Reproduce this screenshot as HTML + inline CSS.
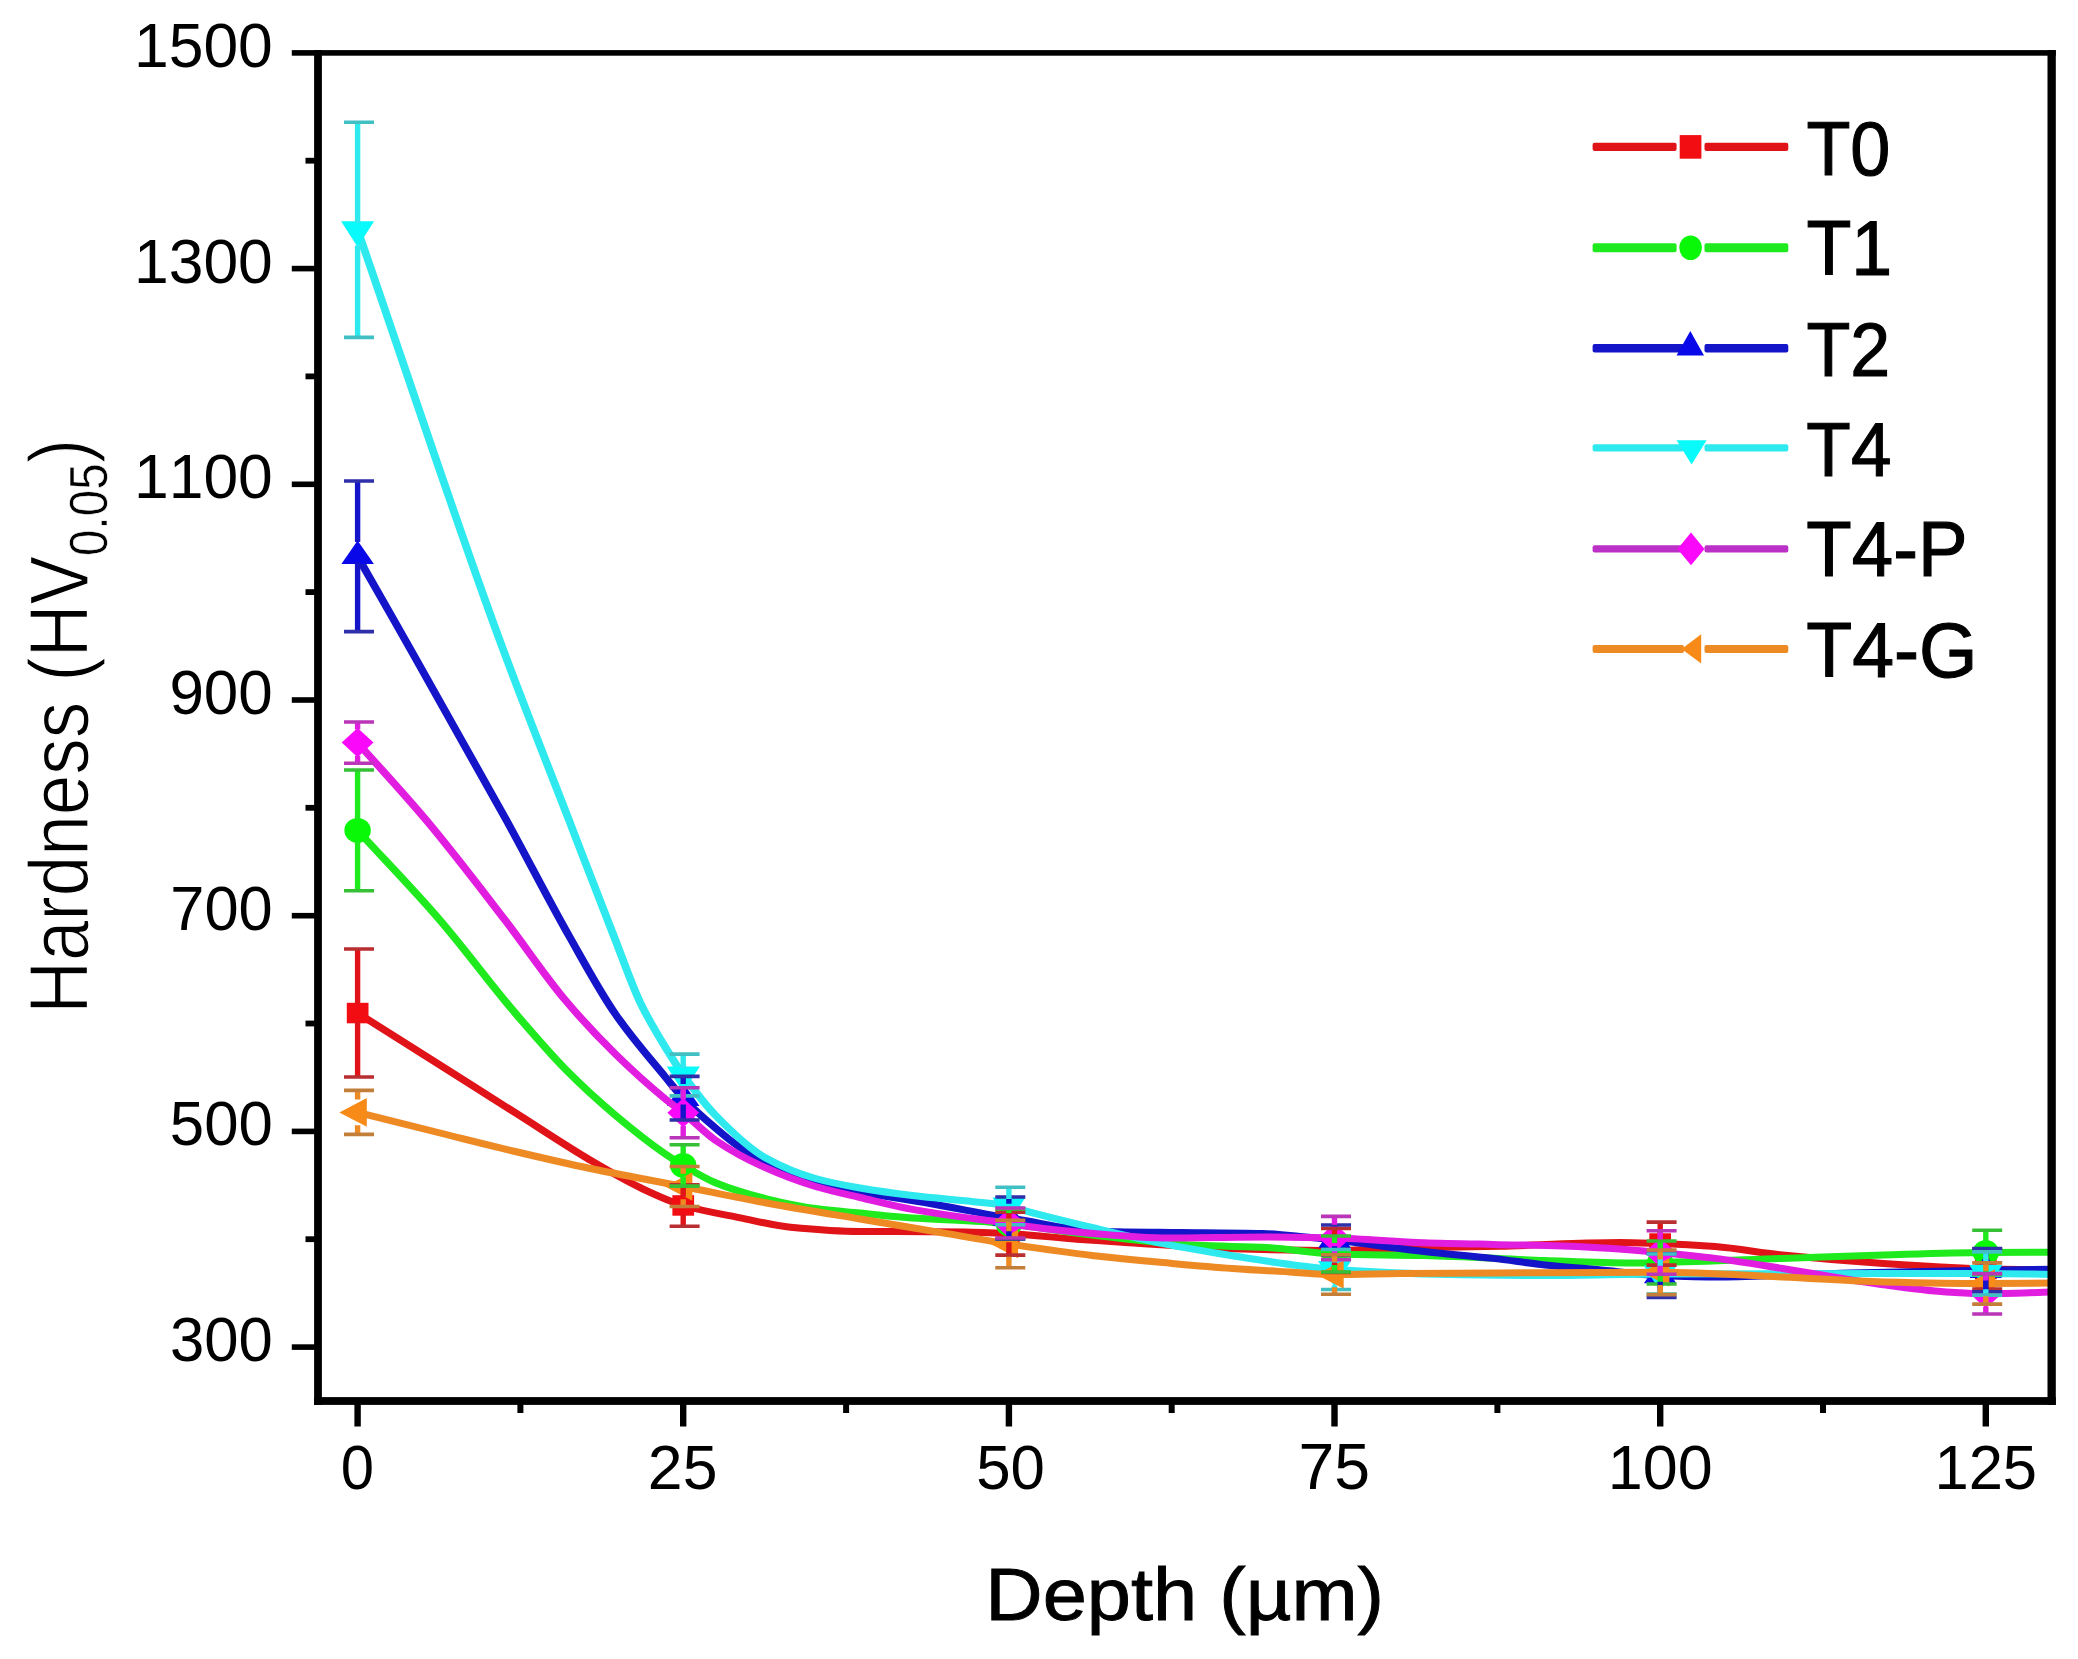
<!DOCTYPE html>
<html><head><meta charset="utf-8"><title>Hardness vs Depth</title>
<style>html,body{margin:0;padding:0;background:#fff}svg{display:block}</style></head>
<body>
<svg width="2078" height="1659" viewBox="0 0 2078 1659" font-family="'Liberation Sans', sans-serif" style="font-kerning:none">
<rect x="0" y="0" width="2078" height="1659" fill="#fff"/>
<clipPath id="cp"><rect x="318.0" y="53.0" width="1733.75" height="1348.0"/></clipPath>
<g clip-path="url(#cp)">
<path transform="scale(1.117,1)" d="M320.1,1013.0 C344.8,1030.4 369.4,1047.7 394.0,1065.1 C416.4,1080.9 438.8,1096.9 461.2,1112.7 C483.6,1128.5 506.1,1145.5 528.5,1160.2 C543.4,1170.0 558.3,1179.8 573.2,1187.7 C586.0,1194.4 598.9,1201.4 611.7,1205.5 C628.7,1211.0 645.8,1214.0 662.8,1217.8 C677.8,1221.2 692.7,1225.7 707.7,1227.3 C728.4,1229.5 749.2,1231.5 769.9,1231.5 C780.4,1231.5 790.8,1231.5 801.3,1231.5 C822.0,1231.5 842.7,1231.7 863.5,1232.0 C876.7,1232.2 890.0,1232.9 903.2,1233.6 C923.4,1234.7 943.6,1237.5 963.8,1239.2 C979.3,1240.5 994.9,1241.6 1010.4,1242.7 C1041.2,1244.9 1072.1,1247.9 1103.0,1248.8 C1133.6,1249.7 1164.2,1250.5 1194.8,1250.5 C1214.3,1250.5 1233.8,1248.5 1253.4,1248.0 C1283.2,1247.2 1313.0,1247.1 1342.9,1246.3 C1366.8,1245.7 1390.6,1243.9 1414.5,1243.3 C1426.4,1243.0 1438.4,1242.6 1450.3,1242.6 C1462.3,1242.6 1474.3,1243.2 1486.3,1243.6 C1502.7,1244.2 1519.0,1245.2 1535.4,1246.6 C1555.5,1248.3 1575.6,1252.7 1595.7,1255.0 C1625.9,1258.4 1656.0,1261.2 1686.2,1263.5 C1706.4,1265.0 1726.5,1266.4 1746.6,1267.5 C1757.0,1268.1 1767.4,1268.7 1777.8,1269.0 C1797.5,1269.5 1817.2,1269.7 1836.8,1270.0" fill="none" stroke="#e01318" stroke-width="7.0" stroke-linejoin="round"/>
<rect x="346.8" y="1002.8" width="21.7" height="20.5" fill="#f20d12"/>
<rect x="672.4" y="1195.2" width="21.7" height="20.5" fill="#f20d12"/>
<rect x="998.0" y="1223.3" width="21.7" height="20.5" fill="#f20d12"/>
<rect x="1323.7" y="1240.2" width="21.7" height="20.5" fill="#f20d12"/>
<rect x="1649.3" y="1233.3" width="21.7" height="20.5" fill="#f20d12"/>
<rect x="1975.0" y="1258.8" width="21.7" height="20.5" fill="#f20d12"/>
<path transform="scale(1.117,1)" d="M320.1,830.4 C344.8,860.4 369.4,888.4 394.0,920.3 C416.4,949.3 438.8,983.7 461.2,1013.0 C476.2,1032.5 491.1,1052.1 506.0,1069.0 C520.9,1085.9 535.9,1101.1 550.9,1115.2 C565.8,1129.2 580.7,1142.5 595.6,1154.0 C601.0,1158.1 606.3,1161.9 611.7,1165.4 C621.3,1171.7 630.9,1178.4 640.5,1182.7 C655.4,1189.5 670.3,1194.4 685.2,1198.5 C700.2,1202.6 715.1,1206.3 730.1,1208.5 C743.4,1210.5 756.6,1211.5 769.9,1213.0 C785.6,1214.7 801.3,1216.8 816.9,1218.0 C837.6,1219.5 858.3,1219.9 879.0,1221.5 C887.0,1222.1 895.1,1223.1 903.2,1224.0 C930.4,1227.2 957.6,1232.6 984.8,1236.0 C1014.0,1239.6 1043.3,1243.8 1072.5,1245.3 C1093.1,1246.4 1113.7,1246.4 1134.3,1247.5 C1154.4,1248.6 1174.6,1253.3 1194.8,1254.0 C1221.5,1254.9 1248.1,1254.8 1274.8,1255.5 C1311.0,1256.4 1347.1,1259.1 1383.2,1260.5 C1409.1,1261.5 1435.1,1263.0 1461.1,1263.0 C1469.5,1263.0 1477.9,1262.7 1486.3,1262.5 C1522.6,1261.6 1559.0,1259.8 1595.3,1258.4 C1625.6,1257.3 1655.9,1256.0 1686.2,1255.0 C1716.8,1254.0 1747.3,1252.7 1777.8,1252.5 C1797.5,1252.4 1817.2,1252.4 1836.8,1252.3" fill="none" stroke="#1eea1e" stroke-width="7.0" stroke-linejoin="round"/>
<ellipse cx="357.6" cy="830.4" rx="13.2" ry="12.5" fill="#08f808"/>
<ellipse cx="683.2" cy="1165.4" rx="13.2" ry="12.5" fill="#08f808"/>
<ellipse cx="1008.9" cy="1224.0" rx="13.2" ry="12.5" fill="#08f808"/>
<ellipse cx="1334.5" cy="1254.0" rx="13.2" ry="12.5" fill="#08f808"/>
<ellipse cx="1660.2" cy="1262.5" rx="13.2" ry="12.5" fill="#08f808"/>
<ellipse cx="1985.8" cy="1252.5" rx="13.2" ry="12.5" fill="#08f808"/>
<path transform="scale(1.117,1)" d="M320.1,556.3 C330.9,577.5 341.7,598.7 352.6,620.0 C386.2,686.3 419.8,752.1 453.4,820.2 C472.4,858.8 491.4,900.6 510.5,938.0 C523.9,964.4 537.4,992.3 550.9,1014.0 C565.8,1038.1 580.7,1056.8 595.6,1077.0 C601.0,1084.3 606.3,1091.9 611.7,1098.2 C621.3,1109.5 630.9,1118.9 640.5,1128.0 C647.6,1134.8 654.7,1141.6 661.9,1147.0 C677.4,1158.7 692.9,1170.8 708.4,1176.5 C728.9,1184.0 749.4,1187.6 769.9,1192.0 C790.8,1196.4 811.7,1199.5 832.6,1203.5 C856.1,1208.1 879.7,1213.6 903.2,1218.0 C907.9,1218.9 912.6,1219.6 917.3,1220.5 C927.8,1222.5 938.4,1225.4 949.0,1227.0 C962.1,1228.9 975.2,1231.1 988.4,1231.5 C1011.0,1232.1 1033.7,1232.2 1056.4,1232.5 C1081.2,1232.8 1105.9,1232.9 1130.7,1233.5 C1141.7,1233.8 1152.8,1235.4 1163.8,1236.5 C1174.1,1237.5 1184.5,1238.7 1194.8,1240.0 C1221.5,1243.3 1248.1,1248.2 1274.8,1251.5 C1295.4,1254.1 1316.0,1255.8 1336.6,1258.4 C1352.1,1260.3 1367.7,1263.2 1383.2,1265.0 C1398.7,1266.8 1414.2,1267.9 1429.7,1269.5 C1448.6,1271.4 1467.4,1274.7 1486.3,1275.5 C1504.1,1276.3 1522.0,1277.0 1539.8,1277.0 C1578.6,1277.0 1617.4,1274.1 1656.2,1273.0 C1696.8,1271.9 1737.3,1271.0 1777.8,1270.2 C1797.5,1269.8 1817.2,1269.5 1836.8,1269.2" fill="none" stroke="#1414c8" stroke-width="7.0" stroke-linejoin="round"/>
<path d="M341.4,564.1 L373.9,564.1 L357.6,540.6 Z" fill="#0808e8"/>
<path d="M667.0,1106.0 L699.5,1106.0 L683.2,1082.5 Z" fill="#0808e8"/>
<path d="M992.6,1225.8 L1025.2,1225.8 L1008.9,1202.3 Z" fill="#0808e8"/>
<path d="M1318.3,1247.8 L1350.8,1247.8 L1334.5,1224.3 Z" fill="#0808e8"/>
<path d="M1643.9,1283.3 L1676.4,1283.3 L1660.2,1259.8 Z" fill="#0808e8"/>
<path d="M1969.6,1278.0 L2002.1,1278.0 L1985.8,1254.5 Z" fill="#0808e8"/>
<path transform="scale(1.117,1)" d="M320.1,229.8 C362.0,364.8 403.8,507.8 445.6,634.9 C466.8,699.6 488.1,758.6 509.4,820.2 C523.2,860.2 537.0,900.8 550.9,940.0 C558.3,961.2 565.8,985.3 573.2,1002.6 C581.4,1021.7 589.6,1036.3 597.9,1051.3 C602.5,1059.7 607.1,1067.8 611.7,1075.0 C621.3,1089.9 630.9,1104.2 640.5,1115.2 C655.4,1132.3 670.3,1148.4 685.2,1157.7 C700.2,1167.0 715.1,1173.8 730.1,1178.5 C743.4,1182.7 756.6,1185.4 769.9,1188.0 C785.6,1191.0 801.3,1193.4 816.9,1195.5 C837.6,1198.3 858.3,1199.8 879.0,1202.5 C887.0,1203.5 895.1,1204.3 903.2,1206.0 C907.9,1207.0 912.6,1209.2 917.3,1210.6 C938.0,1217.0 958.7,1222.5 979.4,1228.0 C1000.0,1233.5 1020.6,1239.1 1041.2,1243.6 C1061.9,1248.2 1082.7,1252.0 1103.4,1255.7 C1124.1,1259.4 1144.8,1263.2 1165.4,1266.0 C1175.2,1267.3 1185.0,1268.8 1194.8,1269.5 C1229.2,1272.1 1263.7,1273.9 1298.1,1274.5 C1328.0,1275.0 1357.8,1275.5 1387.6,1275.5 C1420.5,1275.5 1453.4,1274.1 1486.3,1274.0 C1552.9,1273.7 1619.6,1273.7 1686.2,1273.6 C1716.8,1273.6 1747.3,1273.5 1777.8,1273.5 C1797.5,1273.5 1817.2,1274.1 1836.8,1274.4" fill="none" stroke="#2ee9ee" stroke-width="7.0" stroke-linejoin="round"/>
<path d="M341.1,221.2 L374.1,221.2 L357.6,247.0 Z" fill="#08fafa"/>
<path d="M666.8,1066.4 L699.8,1066.4 L683.2,1092.2 Z" fill="#08fafa"/>
<path d="M992.4,1197.4 L1025.4,1197.4 L1008.9,1223.2 Z" fill="#08fafa"/>
<path d="M1318.0,1260.9 L1351.0,1260.9 L1334.5,1286.7 Z" fill="#08fafa"/>
<path d="M1643.7,1265.4 L1676.7,1265.4 L1660.2,1291.2 Z" fill="#08fafa"/>
<path d="M1969.3,1264.9 L2002.3,1264.9 L1985.8,1290.7 Z" fill="#08fafa"/>
<path transform="scale(1.117,1)" d="M320.1,742.6 C340.6,768.5 361.1,792.9 381.6,820.2 C405.2,851.6 428.7,886.1 452.3,920.3 C470.2,946.3 488.1,976.3 506.0,1000.0 C520.9,1019.8 535.9,1037.6 550.9,1054.0 C565.8,1070.3 580.7,1085.3 595.6,1099.0 C601.0,1103.9 606.3,1108.0 611.7,1112.8 C621.3,1121.4 630.9,1132.9 640.5,1140.2 C655.4,1151.5 670.3,1160.3 685.2,1167.7 C700.2,1175.2 715.1,1181.5 730.1,1186.5 C743.4,1190.9 756.6,1194.0 769.9,1197.5 C785.6,1201.6 801.3,1206.2 816.9,1209.4 C837.6,1213.6 858.3,1216.8 879.0,1219.8 C887.0,1221.0 895.1,1221.7 903.2,1223.0 C907.9,1223.8 912.6,1225.2 917.3,1226.0 C943.1,1230.1 968.8,1232.8 994.6,1234.9 C1010.1,1236.2 1025.7,1238.0 1041.2,1238.0 C1072.2,1238.0 1103.3,1237.0 1134.3,1237.0 C1154.4,1237.0 1174.6,1237.5 1194.8,1238.0 C1221.5,1238.7 1248.1,1241.7 1274.8,1242.7 C1295.4,1243.5 1316.0,1243.9 1336.6,1244.4 C1357.4,1245.0 1378.2,1245.2 1398.9,1246.0 C1419.6,1246.8 1440.3,1248.3 1461.1,1250.0 C1469.5,1250.7 1477.9,1251.6 1486.3,1252.5 C1502.7,1254.3 1519.0,1256.1 1535.4,1258.4 C1555.5,1261.2 1575.6,1265.0 1595.7,1268.5 C1625.9,1273.7 1656.0,1280.3 1686.2,1284.7 C1706.4,1287.6 1726.5,1291.0 1746.6,1292.3 C1757.0,1293.0 1767.4,1293.8 1777.8,1293.8 C1797.5,1293.8 1817.2,1292.6 1836.8,1292.0" fill="none" stroke="#e11ee0" stroke-width="7.0" stroke-linejoin="round"/>
<path d="M341.7,742.6 L357.6,727.9 L373.5,742.6 L357.6,757.3 Z" fill="#fa08fa"/>
<path d="M667.4,1112.8 L683.2,1098.1 L699.1,1112.8 L683.2,1127.5 Z" fill="#fa08fa"/>
<path d="M993.0,1223.0 L1008.9,1208.3 L1024.8,1223.0 L1008.9,1237.7 Z" fill="#fa08fa"/>
<path d="M1318.6,1238.0 L1334.5,1223.3 L1350.5,1238.0 L1334.5,1252.7 Z" fill="#fa08fa"/>
<path d="M1644.3,1252.5 L1660.2,1237.8 L1676.1,1252.5 L1660.2,1267.2 Z" fill="#fa08fa"/>
<path d="M1969.9,1293.8 L1985.8,1279.1 L2001.8,1293.8 L1985.8,1308.5 Z" fill="#fa08fa"/>
<path transform="scale(1.117,1)" d="M320.1,1112.4 C344.8,1119.3 369.4,1126.2 394.0,1133.0 C416.4,1139.2 438.8,1145.6 461.2,1151.5 C483.6,1157.4 506.1,1163.3 528.5,1168.5 C556.2,1175.0 583.9,1180.4 611.7,1186.5 C636.2,1191.9 660.7,1197.8 685.2,1202.8 C713.5,1208.6 741.7,1213.7 769.9,1219.0 C795.9,1223.9 821.8,1228.7 847.8,1233.6 C866.3,1237.1 884.8,1240.9 903.2,1244.0 C928.6,1248.3 954.0,1252.4 979.4,1255.7 C1000.0,1258.3 1020.6,1260.5 1041.2,1262.6 C1061.9,1264.7 1082.7,1266.9 1103.4,1268.5 C1120.6,1269.9 1137.7,1270.9 1154.9,1272.0 C1168.2,1272.9 1181.5,1274.5 1194.8,1274.5 C1214.3,1274.5 1233.8,1273.7 1253.4,1273.5 C1283.2,1273.2 1313.0,1273.2 1342.9,1273.0 C1390.7,1272.7 1438.5,1272.3 1486.3,1272.3 C1522.8,1272.3 1559.2,1275.2 1595.7,1277.0 C1625.9,1278.5 1656.0,1281.2 1686.2,1282.0 C1716.8,1282.8 1747.3,1283.5 1777.8,1283.5 C1797.5,1283.5 1817.2,1283.2 1836.8,1283.0" fill="none" stroke="#ee8a24" stroke-width="7.0" stroke-linejoin="round"/>
<path d="M366.8,1098.1 L366.8,1126.8 L339.3,1112.4 Z" fill="#f88a18"/>
<path d="M692.4,1172.2 L692.4,1200.8 L664.9,1186.5 Z" fill="#f88a18"/>
<path d="M1018.1,1229.7 L1018.1,1258.3 L990.6,1244.0 Z" fill="#f88a18"/>
<path d="M1343.7,1260.2 L1343.7,1288.8 L1316.2,1274.5 Z" fill="#f88a18"/>
<path d="M1669.4,1258.0 L1669.4,1286.6 L1641.9,1272.3 Z" fill="#f88a18"/>
<path d="M1995.0,1269.2 L1995.0,1297.8 L1967.5,1283.5 Z" fill="#f88a18"/>
<path d="M357.6,949.0V1004.2M357.6,1021.8V1077.0M683.2,1184.8V1196.8M683.2,1214.2V1226.2M1008.9,1212.1V1224.8M1008.9,1242.3V1255.1M1334.5,1228.5V1241.8M1334.5,1259.2V1272.5M1660.2,1222.1V1234.8M1660.2,1252.3V1265.1M1985.8,1249.0V1260.2M1985.8,1277.8V1289.0" fill="none" stroke="#e01318" stroke-width="5.4"/>
<path d="M344.0,949.0h30M344.0,1077.0h30M669.6,1184.8h30M669.6,1226.2h30M995.3,1212.1h30M995.3,1255.1h30M1321.0,1228.5h30M1321.0,1272.5h30M1646.6,1222.1h30M1646.6,1265.1h30M1972.2,1249.0h30M1972.2,1289.0h30" fill="none" stroke="#b92e31" stroke-width="3.6"/>
<path d="M357.6,770.0V819.4M357.6,841.4V890.8M683.2,1144.7V1154.4M683.2,1176.4V1186.1M1008.9,1209.0V1213.0M1008.9,1235.0V1239.0M1334.5,1236.0V1243.0M1334.5,1265.0V1272.0M1660.2,1241.0V1251.5M1660.2,1273.5V1284.0M1985.8,1230.2V1241.5M1985.8,1263.5V1274.8" fill="none" stroke="#1eea1e" stroke-width="5.4"/>
<path d="M344.0,770.0h30M344.0,890.8h30M669.6,1144.7h30M669.6,1186.1h30M995.3,1209.0h30M995.3,1239.0h30M1321.0,1236.0h30M1321.0,1272.0h30M1646.6,1241.0h30M1646.6,1284.0h30M1972.2,1230.2h30M1972.2,1274.8h30" fill="none" stroke="#36c036" stroke-width="3.6"/>
<path d="M357.6,481.0V542.1M357.6,562.6V631.6M683.2,1076.4V1084.0M683.2,1104.5V1120.0M1008.9,1197.0V1203.8M1008.9,1224.3V1239.0M1334.5,1225.0V1225.8M1334.5,1246.3V1255.0M1660.2,1253.5V1261.3M1660.2,1281.8V1297.5M1985.8,1248.6V1256.0M1985.8,1276.5V1291.8" fill="none" stroke="#1414c8" stroke-width="5.4"/>
<path d="M344.0,481.0h30M344.0,631.6h30M669.6,1076.4h30M669.6,1120.0h30M995.3,1197.0h30M995.3,1239.0h30M1321.0,1225.0h30M1321.0,1255.0h30M1646.6,1253.5h30M1646.6,1297.5h30M1972.2,1248.6h30M1972.2,1291.8h30" fill="none" stroke="#2f2fa9" stroke-width="3.6"/>
<path d="M357.6,122.2V222.7M357.6,245.5V337.4M683.2,1054.1V1067.9M683.2,1090.7V1095.9M1008.9,1187.2V1198.9M1008.9,1221.7V1224.8M1334.5,1249.5V1262.4M1334.5,1285.2V1289.5M1660.2,1254.0V1266.9M1660.2,1289.7V1294.0M1985.8,1251.9V1266.4M1985.8,1289.2V1295.1" fill="none" stroke="#2ee9ee" stroke-width="5.4"/>
<path d="M344.0,122.2h30M344.0,337.4h30M669.6,1054.1h30M669.6,1095.9h30M995.3,1187.2h30M995.3,1224.8h30M1321.0,1249.5h30M1321.0,1289.5h30M1646.6,1254.0h30M1646.6,1294.0h30M1972.2,1251.9h30M1972.2,1295.1h30" fill="none" stroke="#40c0c3" stroke-width="3.6"/>
<path d="M357.6,722.0V729.4M357.6,755.8V763.2M683.2,1087.8V1099.6M683.2,1126.0V1137.8M1008.9,1208.0V1209.8M1008.9,1236.2V1238.0M1334.5,1216.4V1224.8M1334.5,1251.2V1259.6M1660.2,1230.8V1239.3M1660.2,1265.7V1274.2M1985.8,1273.6V1280.6M1985.8,1307.0V1314.0" fill="none" stroke="#e11ee0" stroke-width="5.4"/>
<path d="M344.0,722.0h30M344.0,763.2h30M669.6,1087.8h30M669.6,1137.8h30M995.3,1208.0h30M995.3,1238.0h30M1321.0,1216.4h30M1321.0,1259.6h30M1646.6,1230.8h30M1646.6,1274.2h30M1972.2,1273.6h30M1972.2,1314.0h30" fill="none" stroke="#ba36b9" stroke-width="3.6"/>
<path d="M357.6,1090.4V1099.6M357.6,1125.2V1134.4M683.2,1166.5V1173.7M683.2,1199.3V1206.5M1008.9,1220.2V1231.2M1008.9,1256.8V1267.8M1334.5,1254.7V1261.7M1334.5,1287.3V1294.3M1660.2,1250.0V1259.5M1660.2,1285.1V1294.6M1985.8,1262.9V1270.7M1985.8,1296.3V1304.1" fill="none" stroke="#ee8a24" stroke-width="5.4"/>
<path d="M344.0,1090.4h30M344.0,1134.4h30M669.6,1166.5h30M669.6,1206.5h30M995.3,1220.2h30M995.3,1267.8h30M1321.0,1254.7h30M1321.0,1294.3h30M1646.6,1250.0h30M1646.6,1294.6h30M1972.2,1262.9h30M1972.2,1304.1h30" fill="none" stroke="#c37f3a" stroke-width="3.6"/>
</g>
<g fill="#000">
<rect x="314.1" y="50.1" width="7.8" height="1354.8"/>
<rect x="2047.5" y="50.1" width="8.3" height="1354.8"/>
<rect x="291.8" y="50.1" width="1764.0" height="5.6"/>
<rect x="314.1" y="1397.1" width="1741.7" height="7.8"/>
<rect x="291.8" y="265.8" width="24" height="5.6"/>
<rect x="291.8" y="481.5" width="24" height="5.6"/>
<rect x="291.8" y="697.2" width="24" height="5.6"/>
<rect x="291.8" y="912.9" width="24" height="5.6"/>
<rect x="291.8" y="1128.6" width="24" height="5.6"/>
<rect x="291.8" y="1344.3" width="24" height="5.6"/>
<rect x="305.5" y="157.8" width="10" height="5.8"/>
<rect x="305.5" y="373.5" width="10" height="5.8"/>
<rect x="305.5" y="589.2" width="10" height="5.8"/>
<rect x="305.5" y="804.9" width="10" height="5.8"/>
<rect x="305.5" y="1020.6" width="10" height="5.8"/>
<rect x="305.5" y="1236.3" width="10" height="5.8"/>
<rect x="354.4" y="1400" width="6.4" height="26.5"/>
<rect x="680.0" y="1400" width="6.4" height="26.5"/>
<rect x="1005.7" y="1400" width="6.4" height="26.5"/>
<rect x="1331.3" y="1400" width="6.4" height="26.5"/>
<rect x="1657.0" y="1400" width="6.4" height="26.5"/>
<rect x="1982.6" y="1400" width="6.4" height="26.5"/>
<rect x="517.4" y="1400" width="6" height="13"/>
<rect x="843.1" y="1400" width="6" height="13"/>
<rect x="1168.7" y="1400" width="6" height="13"/>
<rect x="1494.4" y="1400" width="6" height="13"/>
<rect x="1820.0" y="1400" width="6" height="13"/>
</g>
<g fill="#000">
<text transform="translate(134.05,66.86) scale(0.9971,1)" font-size="62.57" >1500</text>
<text transform="translate(134.05,282.56) scale(0.9971,1)" font-size="62.57" >1300</text>
<text transform="translate(134.05,498.26) scale(0.9971,1)" font-size="62.57" >1100</text>
<text transform="translate(169.39,713.96) scale(0.9907,1)" font-size="62.57" >900</text>
<text transform="translate(170.35,929.66) scale(0.9813,1)" font-size="62.57" >700</text>
<text transform="translate(169.83,1145.36) scale(0.9865,1)" font-size="62.57" >500</text>
<text transform="translate(169.95,1361.06) scale(0.9853,1)" font-size="62.57" >300</text>
<text transform="translate(340.86,1488.98) scale(0.9476,1)" font-size="63.13" >0</text>
<text transform="translate(647.85,1488.98) scale(0.9907,1)" font-size="63.13" >25</text>
<text transform="translate(976.23,1488.98) scale(0.9781,1)" font-size="63.13" >50</text>
<text transform="translate(1298.50,1488.97) scale(1.0049,1)" font-size="64.06" >75</text>
<text transform="translate(1607.81,1488.98) scale(0.9953,1)" font-size="63.13" >100</text>
<text transform="translate(1934.41,1488.98) scale(0.9747,1)" font-size="63.13" >125</text>
<text transform="translate(985.28,1620.1) scale(1.0590,1)" font-size="75.00" stroke="#000" stroke-width="0.9">Depth (µm)</text>
</g>
<g transform="translate(87.8,1007.7) rotate(-90) scale(1.0125,1.1567)" fill="#000">
<text x="-5.91" y="0" font-size="72.0" stroke="#fff" stroke-width="1.1" stroke-linejoin="round">Hardness (HV<tspan font-size="47.0" dy="16.5" stroke-width="0.5">0.05</tspan><tspan font-size="72.0" dy="-16.5">)</tspan></text>
</g>
<rect x="1592.6" y="142.8" width="84.0" height="8.3" rx="2" fill="#e01318"/><rect x="1704.5" y="142.8" width="83.8" height="8.3" rx="2" fill="#e01318"/>
<rect x="1679.7" y="135.1" width="21.7" height="23.6" fill="#f20d12"/>
<rect x="1592.6" y="243.3" width="84.0" height="9.0" rx="2" fill="#1eea1e"/><rect x="1704.5" y="243.3" width="83.8" height="9.0" rx="2" fill="#1eea1e"/>
<ellipse cx="1690.6" cy="247.8" rx="11.3" ry="12.3" fill="#08f808"/>
<rect x="1592.6" y="344.1" width="91.4" height="8.3" rx="2" fill="#1414c8"/><rect x="1704.5" y="344.1" width="83.8" height="8.3" rx="2" fill="#1414c8"/>
<path d="M1676.5,355.5 L1704.0,355.5 L1690.3,331.0 Z" fill="#0808e8"/>
<rect x="1592.6" y="444.2" width="91.4" height="7.4" rx="2" fill="#2ee9ee"/><rect x="1704.5" y="444.2" width="83.8" height="7.4" rx="2" fill="#2ee9ee"/>
<path d="M1676.6,440.3 L1706.6,440.3 L1691.6,464.5 Z" fill="#08fafa"/>
<rect x="1592.6" y="545.2" width="91.4" height="7.4" rx="2" fill="#bb30c6"/><rect x="1704.5" y="545.2" width="83.8" height="7.4" rx="2" fill="#bb30c6"/>
<path d="M1677.5,548.9 L1691.0,532.5 L1704.5,548.9 L1691.0,565.2 Z" fill="#fa08fa"/>
<rect x="1592.6" y="644.9" width="91.4" height="8.0" rx="2" fill="#ee8a24"/><rect x="1704.5" y="644.9" width="83.8" height="8.0" rx="2" fill="#ee8a24"/>
<path d="M1701.2,634.2 L1701.2,663.6 L1681.6,648.9 Z" fill="#f88a18"/>
<g fill="#000" stroke="#000" stroke-width="1.1">
<text transform="translate(1806.38,174.85) scale(0.9423,1)" font-size="76.41" >T0</text>
<text transform="translate(1806.40,275.40) scale(0.9550,1)" font-size="77.04">T1</text>
<text transform="translate(1806.39,375.60) scale(0.9517,1)" font-size="75.48" >T2</text>
<text transform="translate(1806.36,476.20) scale(0.9645,1)" font-size="75.58" >T4</text>
<text transform="translate(1806.33,576.20) scale(0.9656,1)" font-size="77.04" >T4-P</text>
<text transform="translate(1806.31,676.64) scale(0.9664,1)" font-size="77.82" >T4-G</text>
</g>
</svg>
</body></html>
